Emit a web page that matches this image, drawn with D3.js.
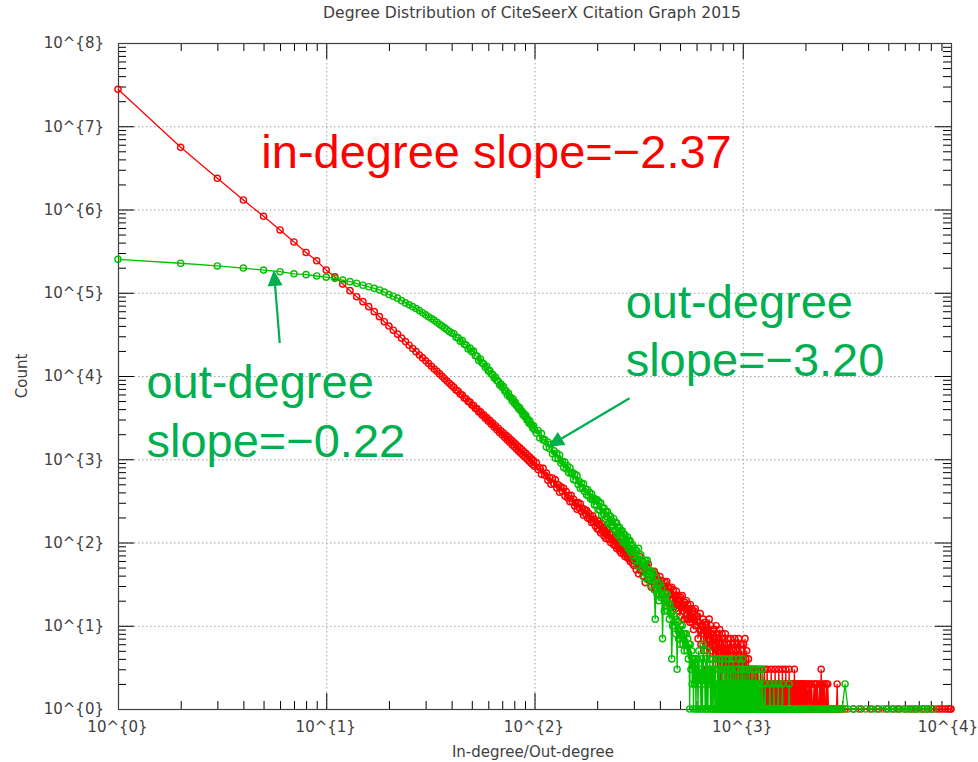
<!DOCTYPE html>
<html><head><meta charset="utf-8">
<script src="https://cdn.jsdelivr.net/npm/d3@7"></script>
<style>body{margin:0;background:#fff}svg{display:block}</style>
</head><body>
<svg id="chart" width="978" height="762"></svg>
<script>
// ---- data ----
// degree grid (x values): every degree up to 100, then sampled degrees
const degreeSegments = [
  d3.range(1, 41), d3.range(41, 101), d3.range(102, 301, 2), d3.range(304, 601, 4),
  d3.range(605, 1201, 5), d3.range(1210, 2001, 10), d3.range(2020, 3001, 20), d3.range(3100, 10001, 100)
];
// in-degree counts per segment (0 = no paper with that degree, not plotted on log axis)
const inSeg1 = [27800000,5580000,2370000,1300000,828000,568000,407000,305000,242000,187000,155000,127000,106000,89700,78200,68100,59300,51600,44900,39800,35500,31800,28500,25900,23400,21400,19600,17900,16500,15200,14100,13100,12100,11400,10600,9910,9270,8690,8180,7710];
const inSeg2 = [7300,6800,6560,6090,5900,5450,5330,4940,4850,4470,4420,4060,4050,3700,3710,3390,3420,3100,3160,2860,2930,2640,2720,2440,2530,2260,2360,2100,2200,1960,2070,1830,1940,1700,1830,1600,1720,1490,1620,1410,1530,1330,1440,1250,1370,1180,1300,1120,1230,1060,1170,1005,1110,955,1055,910,1005,865,955,825];
const inSeg3 = [906,753,788,659,777,644,682,561,604,500,595,509,566,453,492,402,467,413,447,361,409,345,366,309,369,309,331,275,299,250,301,260,291,235,258,213,248,221,242,197,225,191,204,174,209,176,190,158,173,146,181,142,163,130,170,136,152,120,139,112,146,121,143,108,126,100,125,108,124,94,117,92,106,85,111,89,101,80,93,75,98,82,97,73,85,68,86,74,86,65,81,64,74,59,78,63,71,56,66,53];
const inSeg4 = [73,47,63,42,68,47,59,40,50,33,54,42,55,35,44,29,44,37,45,28,41,27,36,24,39,28,35,24,30,20,33,26,34,22,28,18,28,24,29,18,27,17,23,16,26,18,23,15,20,13,22,17,23,15,18,12,19,16,20,12,18,12,16,11,18,12,16,11,14,9,15,12,16,10,13];
const inSeg5 = [13,7,11,9,14,6,10,8,12,5,9,11,6,10,3,9,7,12,4,8,10,5,8,2,9,6,7,3,10,4,8,1,7,5,9,2,6,4,8,1,7,3,6,2,8,1,5,3,7,2,6,1,5,3,7,1,4,2,6,1,5,2,7,1,4,3,6,1,5,2,7,1,4,2,6,1,3,5,1,4,2,6,1,3,7,1,4,2,5,1,3,1,4,2,1,3,1,2,3,1,2,1,3,1,2,1,3,2,1,2,1,3,1,2,1,3,1,2,1,2];
const inSeg6 = [1,3,1,2,1,2,3,1,2,1,3,1,2,1,2,1,3,1,2,1,2,1,3,1,2,1,2,1,3,1,2,1,2,1,3,1,2,1,2,1,3,1,2,1,2,1,3,1,2,1,2,1,2,1,2,1,3,1,2,1,2,1,2,1,1,2,1,2,1,2,1,2,1,1,2,1,2,1,2,1];
const inSeg7 = [2,1,2,1,2,1,2,1,1,2,1,2,1,2,1,1,2,1,3,1,2,1,2,1,1,2,1,2,1,1,0,1,0,1,0,1,0,0,1,0,1,2,1,0,1,0,0,1,0,0];
const inSeg8 = [1,0,0,1,0,0,1,0,0,0,1,0,0,0,1,0,0,0,1,0,0,0,1,0,0,1,0,0,0,1,0,0,0,1,0,0,0,1,0,0,0,0,1,0,0,0,1,0,0,0,1,0,0,0,1,0,0,1,0,0,1,0,0,1,0,0,1,0,1,1];
// out-degree counts per segment
const outSeg1 = [252000,226000,210000,198000,187000,179000,169000,165000,159000,154000,149000,142000,136000,130000,123000,118000,113000,108000,102000,95100,90800,86100,80400,75500,71600,68100,64600,61000,57500,54300,51500,49000,46600,44200,41700,39800,37800,36100,34300,32800];
const outSeg2 = [32200,29300,28700,26100,26600,24100,23600,21100,21600,19600,19950,17500,17400,15400,16000,14300,14000,12700,13100,11500,11600,10600,10400,9480,9680,8780,8660,7800,8000,7280,7460,6590,6630,5910,6190,5580,5520,5040,5290,4690,4790,4380,4340,4020,4150,3800,3770,3420,3530,3230,3340,2970,3020,2720,2870,2620,2600,2380,2520,2260];
const outSeg3 = [2064,2217,1800,2035,1698,1725,1400,1612,1347,1510,1168,1259,1025,1178,1019,1124,900,945,797,925,764,835,688,790,669,690,567,662,561,636,498,543,447,519,454,507,410,435,371,434,362,399,332,384,328,341,283,333,284,325,247,306,246,298,214,257,223,260,193,235,204,235,168,212,173,207,158,180,159,193,141,175,141,171,124,149,130,152,113,138,120,138,100,126,103,123,95,108,95,116,85,106,86,105,76,91,80,94,70,86];
const outSeg4 = [61,81,53,85,58,71,48,60,38,61,47,61,38,47,31,45,37,44,27,12,37,24,31,20,32,22,28,7,23,15,24,19,24,15,19,12,18,14,4,10,15,10,13,8,12,3,11,7,9,6,10,8,10,6,8,5,8,6,8,5,7,4,6,1,6,3,5,2,4,1,4,2,4,1,3];
const outSeg5 = [4,1,5,2,3,1,4,1,6,2,3,1,4,1,5,1,3,2,4,1,3,1,4,1,2,3,1,4,1,2,1,3,1,4,1,2,1,3,1,4,1,2,1,3,1,4,1,2,1,3,1,4,1,2,1,3,1,2,1,4,1,2,1,3,1,1,2,1,3,1,4,1,2,1,1,3,1,2,1,4,1,1,2,1,3,1,1,2,1,3,1,2,1,1,3,1,2,1,1,2,1,3,1,1,2,1,1,2,1,3,1,1,2,1,1,2,1,1,3,1];
const outSeg6 = [2,1,1,3,1,1,1,2,1,1,1,1,1,1,2,1,1,1,1,1,2,1,1,1,1,1,1,2,1,1,1,1,1,1,2,1,1,1,1,1,1,1,1,0,1,1,2,1,0,1,1,0,1,1,0,1,1,1,0,1,0,1,1,0,1,0,1,1,0,1,0,1,0,1,1,0,1,0,1,0];
const outSeg7 = [1,0,1,0,0,1,0,1,0,1,0,0,1,0,1,0,0,1,0,1,0,1,0,0,1,0,1,0,0,1,0,0,1,0,1,0,0,1,0,0,1,0,0,1,0,0,1,0,0,1];
const outSeg8 = [2,1,0,1,0,1,0,0,1,0,0,1,0,1,0,0,1,0,0,1,0,1,0,0,1,0,1,0,0,1,0,1,0,0,1,0,1,0,0,1,0,0,1,0,1,0,0,1,0,0,0,1,0,0,0,0,0,0,0,0,0,0,0,0,0,0,0,0,0,0];

const xTickValues = [1,10,100,1000,10000];
const xTickLabels = ["10^{0}","10^{1}","10^{2}","10^{3}","10^{4}"];
const yTickValues = [1,10,100,1e3,1e4,1e5,1e6,1e7,1e8];
const yTickLabels = ["10^{0}","10^{1}","10^{2}","10^{3}","10^{4}","10^{5}","10^{6}","10^{7}","10^{8}"];

const titleText = "Degree Distribution of CiteSeerX Citation Graph 2015";
const xLabelText = "In-degree/Out-degree";
const yLabelText = "Count";

const annotations = [
  {lines:["in-degree slope=\u22122.37"], x:4.88, y:[3.15e6], color:"#ff0000"},
  {lines:["out-degree","slope=\u22123.20"], x:274, y:[4.97e4,1.0e4], color:"#00b050"},
  {lines:["out-degree","slope=\u22120.22"], x:1.37, y:[5440,1073], color:"#00b050"}
];
const arrows = [
  {from:[5.98,2.49e4], to:[5.6,1.88e5]},
  {from:[286,5395], to:[116,1416]}
];

// ---- drawing ----
const plot = {left:118, right:951, top:43, bottom:709};
const x = d3.scaleLog().domain([1,1e4]).range([plot.left, plot.right]);
const y = d3.scaleLog().domain([1,1e8]).range([plot.bottom, plot.top]);
const svg = d3.select("#chart");
const textFont = "'DejaVu Sans', sans-serif";
const textColor = "#404040";

// grid
const grid = svg.append("g").attr("stroke","#a0a0a0").attr("stroke-width",1).attr("stroke-dasharray","1.5,2.5");
xTickValues.slice(1,-1).forEach(v=>grid.append("line").attr("x1",x(v)+0.5).attr("x2",x(v)+0.5).attr("y1",plot.top).attr("y2",plot.bottom));
yTickValues.slice(1,-1).forEach(v=>grid.append("line").attr("y1",y(v)+0.5).attr("y2",y(v)+0.5).attr("x1",plot.left).attr("x2",plot.right));

const minorX = [], minorY = [];
xTickValues.slice(0,-1).forEach(d=>{for(let m=2;m<10;m++) minorX.push(d*m);});
yTickValues.slice(0,-1).forEach(d=>{for(let m=2;m<10;m++) minorY.push(d*m);});

function styleAxis(g){
  g.select(".domain").remove();
  g.selectAll(".tick line").attr("stroke","#000").attr("stroke-width",1);
  g.selectAll(".tick text").attr("fill",textColor).style("font-family",textFont).style("font-size","15px");
}
svg.append("g").attr("transform",`translate(${plot.left},0)`)
  .call(d3.axisLeft(y).tickValues(yTickValues).tickFormat((d,i)=>yTickLabels[i]).tickSize(-16).tickPadding(14)).call(styleAxis);
svg.append("g").attr("transform",`translate(${plot.left},0)`)
  .call(d3.axisLeft(y).tickValues(minorY).tickFormat("").tickSize(-8)).call(styleAxis);
svg.append("g").attr("transform",`translate(${plot.right},0)`)
  .call(d3.axisRight(y).tickValues(yTickValues).tickFormat("").tickSize(-16)).call(styleAxis);
svg.append("g").attr("transform",`translate(${plot.right},0)`)
  .call(d3.axisRight(y).tickValues(minorY).tickFormat("").tickSize(-8)).call(styleAxis);
const xAxisG = svg.append("g").attr("transform",`translate(0,${plot.bottom})`)
  .call(d3.axisBottom(x).tickValues(xTickValues).tickFormat((d,i)=>xTickLabels[i]).tickSize(-16).tickPadding(12)).call(styleAxis);
xAxisG.selectAll(".tick text").attr("dx",(d,i)=> i===xTickValues.length-1 ? -3.5 : -1);
svg.append("g").attr("transform",`translate(0,${plot.bottom})`)
  .call(d3.axisBottom(x).tickValues(minorX).tickFormat("").tickSize(-8)).call(styleAxis);
svg.append("g").attr("transform",`translate(0,${plot.top})`)
  .call(d3.axisTop(x).tickValues(xTickValues).tickFormat("").tickSize(-16)).call(styleAxis);
svg.append("g").attr("transform",`translate(0,${plot.top})`)
  .call(d3.axisTop(x).tickValues(minorX).tickFormat("").tickSize(-8)).call(styleAxis);

svg.append("rect").attr("x",plot.left+0.5).attr("y",plot.top+0.5)
  .attr("width",plot.right-plot.left).attr("height",plot.bottom-plot.top)
  .attr("fill","none").attr("stroke","#404040").attr("stroke-width",1.2);

// series
const degrees = [].concat(...degreeSegments);
const series = [
  {name:"in-degree", color:"#ff0000", counts:[].concat(inSeg1,inSeg2,inSeg3,inSeg4,inSeg5,inSeg6,inSeg7,inSeg8)},
  {name:"out-degree", color:"#00c000", counts:[].concat(outSeg1,outSeg2,outSeg3,outSeg4,outSeg5,outSeg6,outSeg7,outSeg8)}
];
const line = d3.line().x(p=>x(p.d)).y(p=>y(p.c));
series.forEach(s=>{
  const pts = degrees.map((d,i)=>({d, c:s.counts[i]})).filter(p=>p.c>0);
  const g = svg.append("g");
  g.append("path").datum(pts).attr("d",line).attr("fill","none").attr("stroke",s.color).attr("stroke-width",1.3);
  g.selectAll("circle").data(pts).join("circle")
    .attr("cx",p=>x(p.d)).attr("cy",p=>y(p.c)).attr("r",3.1)
    .attr("fill","none").attr("stroke",s.color).attr("stroke-width",1.4);
});

// title & labels
svg.append("text").attr("x",532).attr("y",18).attr("text-anchor","middle")
  .style("font-family",textFont).style("font-size","15.6px").attr("fill",textColor).text(titleText);
svg.append("text").attr("x",533).attr("y",757).attr("text-anchor","middle")
  .style("font-family",textFont).style("font-size","15px").attr("fill",textColor).text(xLabelText);
svg.append("text").attr("transform","translate(27,376) rotate(-90)").attr("text-anchor","middle")
  .style("font-family",textFont).style("font-size","15px").attr("fill",textColor).text(yLabelText);

// annotations
annotations.forEach(a=>{
  a.lines.forEach((t,i)=>{
    svg.append("text").attr("x",x(a.x)).attr("y",y(a.y[i]))
      .style("font-family","'Liberation Sans', Arial, sans-serif").style("font-size","47px")
      .attr("fill",a.color).text(t);
  });
});
arrows.forEach(ar=>{
  const x0=x(ar.from[0]), y0=y(ar.from[1]), x1=x(ar.to[0]), y1=y(ar.to[1]);
  const ang=Math.atan2(y1-y0,x1-x0), L=16, hw=7.5;
  const bx=x1-L*Math.cos(ang), by=y1-L*Math.sin(ang);
  svg.append("line").attr("x1",x0).attr("y1",y0).attr("x2",bx).attr("y2",by)
    .attr("stroke","#00b050").attr("stroke-width",2.2);
  const p1=[bx+hw*Math.sin(ang), by-hw*Math.cos(ang)], p2=[bx-hw*Math.sin(ang), by+hw*Math.cos(ang)];
  svg.append("polygon").attr("points",[[x1,y1],p1,p2].map(p=>p.join(",")).join(" ")).attr("fill","#00b050");
});
</script>
</body></html>
